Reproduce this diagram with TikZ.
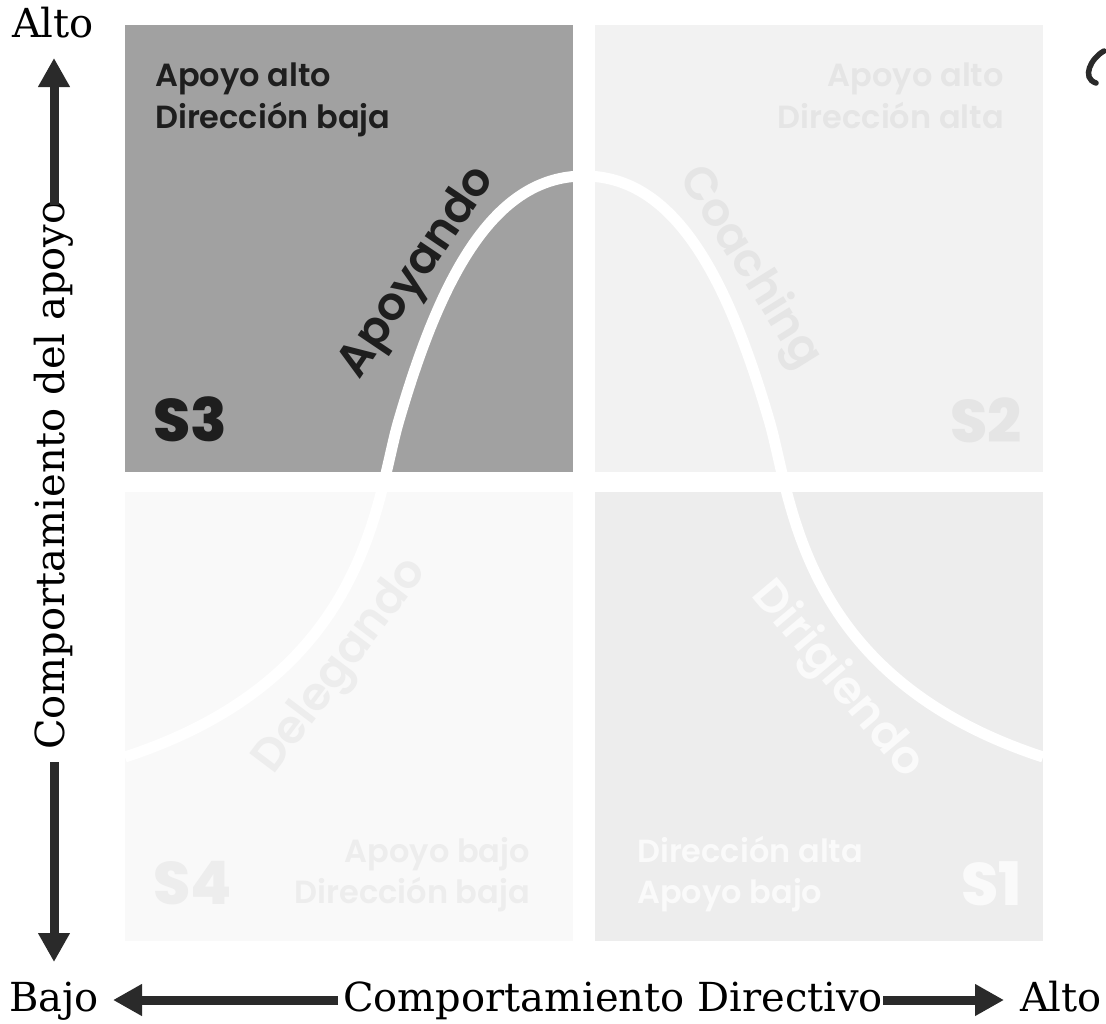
\documentclass[tikz,border=0pt]{standalone}
\usepackage{fontspec}
\usetikzlibrary{arrows.meta}
\newfontfamily\popheavy{Poppins ExtraBold}
\newfontfamily\popsemi{Poppins SemiBold}
\newfontfamily\serfont{DejaVu Serif}
\definecolor{qthree}{RGB}{161,161,161}
\definecolor{qtwo}{RGB}{242,242,242}
\definecolor{qfour}{RGB}{249,249,249}
\definecolor{qone}{RGB}{237,237,237}
\definecolor{inkdark}{RGB}{30,30,30}
\definecolor{txttwo}{RGB}{229,229,229}
\definecolor{txtfour}{RGB}{237,237,237}
\definecolor{txtone}{RGB}{250,250,250}
\definecolor{axisink}{RGB}{42,42,42}
\begin{document}
\begin{tikzpicture}[x=1pt,y=-1pt,
  quad/.style={anchor=north west, inner sep=0pt, minimum width=448pt, minimum height=447pt},
  infotext/.style={font=\popsemi\fontsize{32}{42}\selectfont, inner sep=0pt},
  stylename/.style={font=\popsemi\fontsize{46}{46}\selectfont, inner sep=0pt},
  bigcode/.style={font=\popheavy\fontsize{60}{60}\selectfont, inner sep=0pt},
  axislabel/.style={font=\serfont\fontsize{40}{42}\selectfont, inner sep=0pt, text=black, anchor=base},
  axisarrow/.style={draw=axisink, line width=9pt, -{Triangle[length=29pt,width=30pt]}},
  bellcurve/.style={draw=white, line width=11pt}]
\useasboundingbox (0,0) rectangle (1106,1023);
% quadrants
\node[quad, fill=qthree] (q3) at (125,25) {};
\node[quad, fill=qtwo] (q2) at (595,25) {};
\node[quad, fill=qfour, minimum height=449pt] (q4) at (125,492) {};
\node[quad, fill=qone, minimum height=449pt] (q1) at (595,492) {};
% curve
\draw[bellcurve] (125,757) .. controls (370,677) and (376,497) .. (399,420)
  .. controls (441,276) and (494,176) .. (584,176)
  .. controls (674,176) and (727,276) .. (769,420)
  .. controls (792,497) and (798,677) .. (1043,757);
% S3
\node[infotext, text=inkdark, anchor=base west] (t3a) at (155,86) {Apoyo alto};
\node[infotext, text=inkdark, anchor=base west] (t3b) at (155,128) {Dirección baja};
\node[bigcode, text=inkdark, anchor=base west] (s3) at (153,441) {S3};
\node[stylename, text=inkdark, rotate=56] (n3) at (418,273) {Apoyando};
% S2
\node[infotext, text=txttwo, anchor=base east] (t2a) at (1004,86) {Apoyo alto};
\node[infotext, text=txttwo, anchor=base east] (t2b) at (1004,128) {Dirección alta};
\node[bigcode, text=txttwo, anchor=base east] (s2) at (1022,442) {S2};
\node[stylename, text=txttwo, rotate=-58] (n2) at (749,268) {Coaching};
% S4
\node[infotext, text=txtfour, anchor=base east] (t4a) at (530,862) {Apoyo bajo};
\node[infotext, text=txtfour, anchor=base east] (t4b) at (530,903) {Dirección baja};
\node[bigcode, text=txtfour, anchor=base west] (s4) at (153,904) {S4};
\node[stylename, text=txtfour, rotate=53] (n4) at (342,667) {Delegando};
% S1
\node[infotext, text=txtone, anchor=base west] (t1a) at (637,862) {Dirección alta};
\node[infotext, text=txtone, anchor=base west] (t1b) at (637,903) {Apoyo bajo};
\node[bigcode, text=txtone, anchor=base east] (s1) at (1022,905) {S1};
\node[stylename, text=txtone, rotate=-50] (n1) at (837,680) {Dirigiendo};
% axes
\node[axislabel] (ytoplab) at (53,37) {Alto};
\node[axislabel, rotate=90] (ylab) at (64,475) {Comportamiento del apoyo};
\node[axislabel] (xleftlab) at (54,1011) {Bajo};
\node[axislabel] (xlab) at (613,1011) {Comportamiento Directivo};
\node[axislabel] (xrightlab) at (1061,1011) {Alto};
\coordinate (ytip) at (54,58);
\coordinate (ytop) at (54,205);
\coordinate (ybot) at (54,762);
\coordinate (ybtip) at (54,962);
\coordinate (xlstart) at (338,1000);
\coordinate (xltip) at (113,1000);
\coordinate (xrstart) at (883,1000);
\coordinate (xrtip) at (1004,1000);
\draw[axisarrow] (ytop) -- (ytip);
\draw[axisarrow] (ybot) -- (ybtip);
\draw[axisarrow] (xlstart) -- (xltip);
\draw[axisarrow] (xrstart) -- (xrtip);
% fragment at the right edge
\draw[axisink, line width=5.5pt, line cap=round] (1104,51) .. controls (1091,58) and (1081,78) .. (1096,83);
\end{tikzpicture}
\end{document}
